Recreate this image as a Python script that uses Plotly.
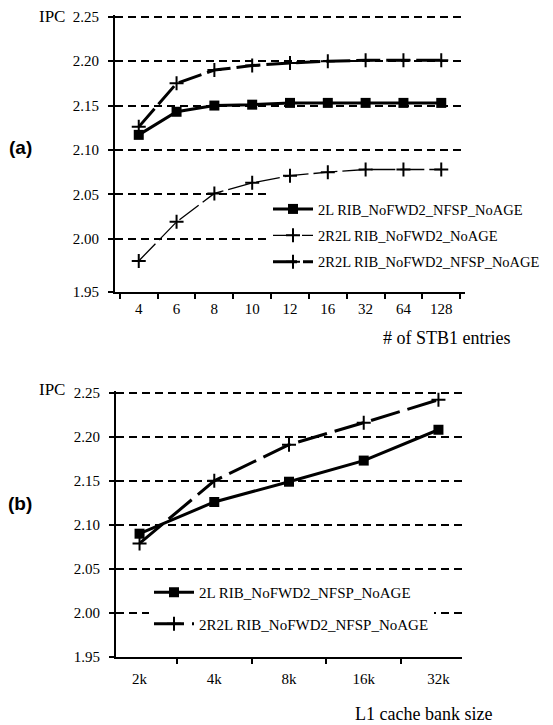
import plotly.graph_objects as go

# ---- data (a) ----
stb_entries = ["4", "6", "8", "10", "12", "16", "32", "64", "128"]
a_2L_nfsp = [2.117, 2.143, 2.150, 2.151, 2.153, 2.153, 2.153, 2.153, 2.153]
a_2R2L = [1.975, 2.019, 2.051, 2.063, 2.071, 2.075, 2.078, 2.078, 2.078]
a_2R2L_nfsp = [2.126, 2.175, 2.190, 2.195, 2.198, 2.200, 2.201, 2.201, 2.201]

# ---- data (b) ----
bank_sizes = ["2k", "4k", "8k", "16k", "32k"]
b_2L_nfsp = [2.090, 2.126, 2.149, 2.173, 2.208]
b_2R2L_nfsp = [2.079, 2.150, 2.191, 2.216, 2.242]

names_a = ["2L RIB_NoFWD2_NFSP_NoAGE", "2R2L RIB_NoFWD2_NoAGE", "2R2L RIB_NoFWD2_NFSP_NoAGE"]
names_b = ["2L RIB_NoFWD2_NFSP_NoAGE", "2R2L RIB_NoFWD2_NFSP_NoAGE"]

ytick_vals_a = [1.94, 2.00, 2.05, 2.10, 2.15, 2.20, 2.25]
ytick_text_a = ["1.95", "2.00", "2.05", "2.10", "2.15", "2.20", "2.25"]
ytick_vals_b = [1.95, 2.00, 2.05, 2.10, 2.15, 2.20, 2.25]
ytick_text_b = ["1.95", "2.00", "2.05", "2.10", "2.15", "2.20", "2.25"]

SERIF = "Liberation Serif"
OFF = 8               # default page body margin
W, H = 553 - OFF, 725 - OFF


def px(x):
    return (x - OFF) / W


def py(y):
    return (725 - y) / H


fig = go.Figure()

sq = dict(symbol="square", size=10, color="black")
cross = dict(symbol="cross-thin", size=10, color="black", line=dict(color="black", width=2))

fig.add_trace(go.Scatter(x=stb_entries, y=a_2L_nfsp, name=names_a[0], mode="lines+markers",
                         line=dict(color="black", width=3), marker=sq,
                         xaxis="x", yaxis="y", legend="legend", legendgroup="a1"))
fig.add_trace(go.Scatter(x=stb_entries, y=a_2R2L, name=names_a[1], mode="lines+markers",
                         line=dict(color="black", width=1.3, dash="24px,5px"), marker=cross,
                         xaxis="x", yaxis="y", legend="legend", legendgroup="a2"))
fig.add_trace(go.Scatter(x=stb_entries, y=a_2R2L_nfsp, name=names_a[2], mode="lines+markers",
                         line=dict(color="black", width=3, dash="24px,6px"), marker=cross,
                         xaxis="x", yaxis="y", legend="legend", legendgroup="a3"))

fig.add_trace(go.Scatter(x=bank_sizes, y=b_2L_nfsp, name=names_b[0], mode="lines+markers",
                         line=dict(color="black", width=3), marker=sq,
                         xaxis="x2", yaxis="y2", legend="legend2", legendgroup="b1"))
fig.add_trace(go.Scatter(x=bank_sizes, y=b_2R2L_nfsp, name=names_b[1], mode="lines+markers",
                         line=dict(color="black", width=3, dash="30px,8px"), marker=cross,
                         xaxis="x2", yaxis="y2", legend="legend2", legendgroup="b2"))

xcommon = dict(type="category", showline=True, linecolor="black", linewidth=2,
               ticks="outside", tickson="boundaries", ticklen=5, tickwidth=2, tickcolor="black",
               showgrid=False, zeroline=False, tickfont=dict(family=SERIF, size=15, color="black"))
ycommon = dict(showline=True, linecolor="black", linewidth=2, ticks="outside", ticklen=5,
               tickwidth=1.5, tickcolor="black", showgrid=True, gridcolor="black", gridwidth=2,
               griddash="8px,5px", zeroline=False, ticklabelstandoff=6,
               ticklabeloverflow="allow",
               tickfont=dict(family=SERIF, size=15, color="black"))

fig.update_layout(
    width=W, height=H, margin=dict(l=0, r=0, t=0, b=0, autoexpand=False),
    paper_bgcolor="white", plot_bgcolor="white",
    xaxis=dict(domain=[px(115), px(465)], anchor="y", ticklabelstandoff=2, **xcommon),
    yaxis=dict(domain=[py(292), py(15)], anchor="x", range=[1.94, 2.252],
               tickvals=ytick_vals_a, ticktext=ytick_text_a, **ycommon),
    xaxis2=dict(domain=[px(116), px(462)], anchor="y2", ticklabelstandoff=7, **xcommon),
    yaxis2=dict(domain=[py(657), py(391)], anchor="x2", range=[1.95, 2.252],
                tickvals=ytick_vals_b, ticktext=ytick_text_b, **ycommon),
    legend=dict(x=px(268), xanchor="left", y=py(193), yanchor="top",
                bgcolor="white", borderwidth=0, traceorder="grouped", tracegroupgap=4.5,
                itemwidth=40, font=dict(family=SERIF, size=14.5, color="black")),
    legend2=dict(x=px(149), xanchor="left", y=py(576), yanchor="top",
                 bgcolor="white", borderwidth=0, traceorder="grouped", tracegroupgap=9,
                 itemwidth=40, font=dict(family=SERIF, size=15, color="black")),
    showlegend=True,
)

ann_font = dict(family=SERIF, size=18, color="black")
ipc_font = dict(family=SERIF, size=17, color="black")
lab_font = dict(family="Liberation Sans", size=19, color="black")
annotations = [
    dict(text="IPC", x=px(52), y=py(17), font=ipc_font),
    dict(text="IPC", x=px(52), y=py(389), font=ipc_font),
    dict(text="<b>(a)</b>", x=px(20), y=py(148), font=lab_font),
    dict(text="<b>(b)</b>", x=px(20), y=py(503), font=lab_font),
    dict(text="# of STB1 entries", x=px(447), y=py(338), font=ann_font),
    dict(text="L1 cache bank size", x=px(423), y=py(714), font=ann_font),
]
for a in annotations:
    fig.add_annotation(xref="paper", yref="paper", showarrow=False, borderpad=0,
                       xanchor="center", yanchor="middle", **a)

fig.write_html("out.html")
